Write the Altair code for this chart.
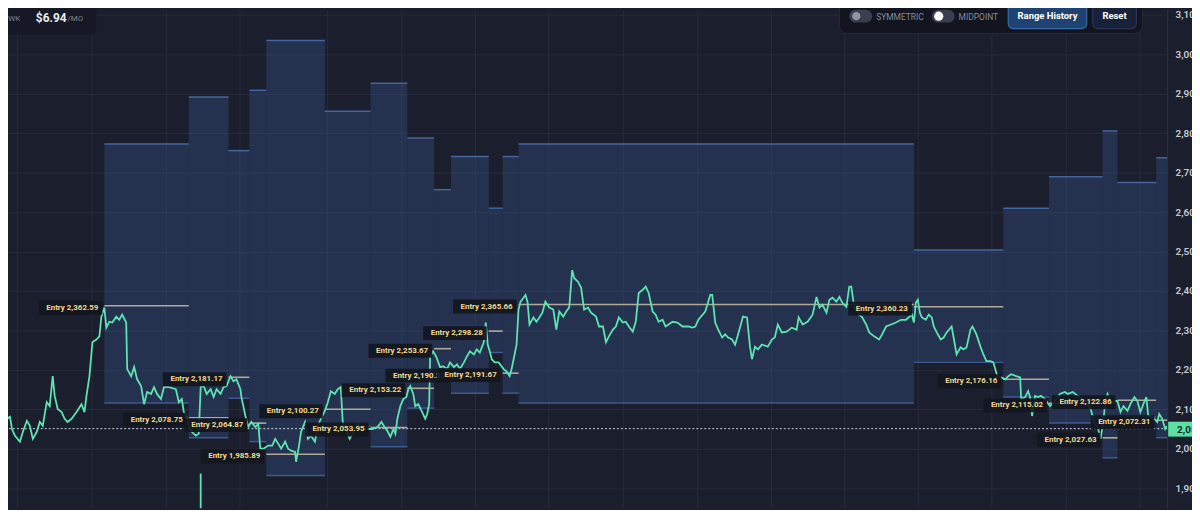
import altair as alt
import pandas as pd

# ---------------- data ----------------
box_start = [105, 190, 230, 251, 268, 327, 373, 410, 437, 454, 492, 506, 522, 920, 1010, 1056, 1110, 1125, 1164]
box_end = [190, 230, 251, 268, 327, 373, 410, 437, 454, 492, 506, 522, 920, 1010, 1056, 1110, 1125, 1164, 1175]
box_upper = [2773, 2892, 2756, 2909, 3035, 2856, 2927, 2788, 2657, 2741, 2610, 2741, 2773, 2504, 2610, 2690, 2806, 2675, 2738]
box_lower = [2116, 2028, 2128, 2018, 1932, 2057, 2005, 2103, 2195, 2141, 2244, 2141, 2116, 2219, 2131, 2065, 1977, 2081, 2028]
entry_price = [2362.59, 2078.75, 2181.17, 2064.87, 1985.89, 2100.27, 2053.95, 2153.22, 2253.67, 2190.35,
               2298.28, 2191.67, 2365.66, 2360.23, 2176.16, 2115.02, 2027.63, 2122.86, 2072.31]

price_t = [0, 3, 7, 10, 12, 15, 20, 23, 27, 30, 33, 37, 40, 43, 47, 50, 53, 55, 58, 62, 65, 68, 72, 77, 82, 85, 87, 90,
           93, 97, 100, 102, 105, 107, 110, 113, 117, 120, 123, 127, 128, 132, 135, 138, 142, 145, 148, 152, 155, 158,
           162, 165, 170, 177, 180, 183, 185, 187, 190, 193, 197, 200, 202, 205, 208, 212, 215, 218, 222, 225, 228, 232,
           235, 238, 242, 243, 247, 250, 253, 257, 260, 262, 265, 270, 274, 277, 280, 283, 287, 290, 293, 297, 298, 301,
           303, 307, 310, 313, 317, 320, 323, 327, 330, 333, 337, 340, 343, 345, 348, 352, 356, 360, 365, 370, 375, 380,
           384, 387, 390, 393, 396, 398, 400, 403, 406, 409, 411, 413, 416, 418, 421, 425, 428, 430, 432, 433, 436, 439,
           443, 446, 450, 453, 457, 460, 463, 467, 470, 473, 477, 480, 483, 487, 489, 491, 493, 495, 498, 502, 507, 510,
           513, 515, 518, 520, 522, 524, 527, 529, 531, 533, 537, 540, 543, 546, 549, 553, 557, 560, 563, 567, 570, 573,
           576, 578, 582, 585, 588, 592, 595, 600, 603, 607, 610, 613, 617, 620, 623, 627, 630, 633, 637, 640, 643, 647,
           650, 653, 657, 660, 663, 667, 670, 673, 677, 682, 687, 693, 697, 700, 703, 710, 715, 717, 720, 723, 727, 730,
           733, 737, 740, 743, 748, 752, 755, 757, 760, 763, 767, 773, 777, 780, 783, 787, 792, 797, 802, 804, 808, 813,
           818, 822, 825, 828, 832, 835, 838, 842, 845, 848, 852, 855, 857, 860, 865, 868, 872, 875, 880, 885, 888, 892,
           897, 902, 907, 912, 918, 920, 922, 924, 926, 928, 932, 935, 938, 940, 943, 947, 950, 953, 958, 960, 963, 967,
           970, 973, 977, 979, 983, 987, 990, 993, 997, 1000, 1004, 1008, 1012, 1015, 1018, 1023, 1027, 1028, 1032,
           1035, 1037, 1039, 1042, 1045, 1048, 1052, 1057, 1062, 1067, 1072, 1075, 1080, 1085, 1090, 1095, 1098, 1102,
           1105, 1108, 1111, 1113, 1115, 1118, 1122, 1125, 1128, 1131, 1135, 1138, 1142, 1145, 1148, 1151, 1154, 1156,
           1160, 1165, 1167, 1170, 1173, 1175]
price_val = [1992, 2045, 2076, 2081, 2050, 2033, 2018, 2043, 2071, 2058, 2025, 2043, 2068, 2058, 2118, 2108, 2184, 2134,
             2101, 2093, 2076, 2068, 2076, 2093, 2113, 2093, 2134, 2184, 2270, 2277, 2285, 2335, 2358, 2307, 2322, 2320,
             2335, 2327, 2340, 2320, 2202, 2184, 2207, 2176, 2159, 2113, 2144, 2139, 2156, 2139, 2126, 2156, 2156, 2151,
             2118, 2126, 2093, 2083, 2058, 2043, 2033, 2038, 2156, 2159, 2139, 2151, 2131, 2151, 2139, 2156, 2159, 2184,
             2171, 2176, 2151, 2131, 2083, 2055, 2068, 2055, 2063, 2000, 2000, 2008, 2008, 2025, 2013, 2000, 2018, 2000,
             1995, 1992, 1967, 2008, 2043, 2068, 2025, 2033, 2018, 2058, 2076, 2096, 2118, 2146, 2139, 2151, 2156, 2068,
             2050, 2025, 2045, 2063, 2050, 2050, 2050, 2055, 2068, 2055, 2045, 2030, 2050, 2038, 2076, 2108, 2126, 2131,
             2151, 2159, 2139, 2108, 2113, 2093, 2076, 2088, 2113, 2234, 2247, 2234, 2207, 2209, 2202, 2219, 2207, 2214,
             2202, 2219, 2234, 2247, 2239, 2252, 2244, 2270, 2320, 2264, 2247, 2227, 2219, 2219, 2202, 2196, 2184, 2202,
             2239, 2264, 2353, 2373, 2383, 2390, 2373, 2315, 2333, 2322, 2333, 2345, 2373, 2358, 2353, 2302, 2348, 2335,
             2348, 2358, 2453, 2433, 2423, 2408, 2353, 2358, 2345, 2335, 2310, 2310, 2270, 2285, 2302, 2310, 2333, 2320,
             2322, 2310, 2297, 2322, 2395, 2403, 2411, 2395, 2348, 2340, 2322, 2327, 2310, 2315, 2322, 2320, 2310, 2310,
             2307, 2310, 2327, 2348, 2390, 2390, 2320, 2302, 2282, 2290, 2282, 2277, 2264, 2290, 2335, 2333, 2259, 2227,
             2259, 2252, 2264, 2259, 2277, 2282, 2315, 2295, 2297, 2307, 2302, 2333, 2315, 2322, 2340, 2385, 2358, 2365,
             2345, 2378, 2383, 2373, 2385, 2370, 2360, 2411, 2411, 2358, 2340, 2333, 2315, 2295, 2285, 2277, 2290, 2310,
             2315, 2320, 2327, 2327, 2340, 2320, 2370, 2378, 2345, 2333, 2327, 2340, 2333, 2310, 2295, 2277, 2282, 2295,
             2310, 2282, 2239, 2257, 2252, 2257, 2302, 2310, 2290, 2259, 2239, 2222, 2222, 2219, 2184, 2181, 2176, 2184,
             2189, 2184, 2181, 2126, 2131, 2146, 2131, 2083, 2134, 2131, 2134, 2126, 2108, 2121, 2139, 2144, 2139, 2144,
             2134, 2126, 2113, 2101, 2063, 2055, 2025, 2076, 2126, 2139, 2113, 2121, 2121, 2093, 2108, 2096, 2113, 2131,
             2121, 2093, 2113, 2131, 2083, 2081, 2068, 2088, 2076, 2050, 2058]

spike_t = [202]
spike_low = [1840]
spike_high = [1937]

current_price = [2050.9]
current_text = ["2,050.90"]

grid_t = [17, 92, 167, 241, 329, 404, 478, 552, 627, 702, 776, 850, 924, 998, 1073, 1147]
y_ticks = [1900, 2000, 2100, 2200, 2300, 2400, 2500, 2600, 2700, 2800, 2900, 3000, 3100]

# ---------------- tables ----------------
boxes = pd.DataFrame({"t0": box_start, "t1": box_end, "hi": box_upper, "lo": box_lower, "entry": entry_price})
prices = pd.DataFrame({"t": price_t, "p": price_val})
spike = pd.DataFrame({"t": spike_t, "lo": spike_low, "hi": spike_high})
cur = pd.DataFrame({"p": current_price, "txt": current_text})
one = pd.DataFrame({"a": [0]})

BG = "#1b1e2d"
FONT = "Roboto"

xs = alt.Scale(domain=[8, 1175], nice=False, zero=False)
ys = alt.Scale(domain=[1848.9, 3113.4], nice=False, zero=False)
x_axis = alt.Axis(values=grid_t, labels=False, ticks=False, domain=False, title=None,
                  grid=True, gridColor="#272b3d", gridWidth=1)
y_axis = alt.Axis(values=y_ticks, orient="right", format=",.0f", ticks=False, domain=True,
                  domainColor="#2c3042", grid=True, gridColor="#272b3d", gridWidth=1,
                  labelColor="#c6cad4", labelFontSize=10, labelFontWeight=600, labelFont=FONT,
                  labelPadding=8, title=None)


def X(f):
    return alt.X(f, type="quantitative", scale=xs, axis=x_axis)


def Y(f):
    return alt.Y(f, type="quantitative", scale=ys, axis=y_axis)


base_boxes = alt.Chart(boxes)

box_fill = base_boxes.mark_rect(color="#3b5fa0", opacity=0.3).encode(
    x=X("t0"), x2="t1", y=Y("lo"), y2="hi")
box_top = base_boxes.mark_rule(color="#4b6ca6", strokeWidth=1.5, opacity=0.9).encode(
    x=X("t0"), x2="t1", y=Y("hi"))
box_bot = base_boxes.mark_rule(color="#40609a", strokeWidth=1.5, opacity=0.9).encode(
    x=X("t0"), x2="t1", y=Y("lo"))

cur_line = alt.Chart(cur).mark_rule(color="#cdd1da", strokeWidth=1, strokeDash=[2, 2]).encode(
    y=Y("p"))

entry_lines = base_boxes.mark_rule(color="#c9bea3", strokeWidth=1.6, opacity=0.85).encode(
    x=X("t0"), x2="t1", y=Y("entry"))

price_line = alt.Chart(prices).mark_line(color="#5ee3b2", strokeWidth=1.8, clip=True).encode(
    x=X("t"), y=Y("p"))

spike_rule = alt.Chart(spike).mark_rule(color="#5ee3b2", strokeWidth=1.8, clip=True).encode(
    x=X("t"), y=Y("lo"), y2="hi")

layers = [box_fill, box_top, box_bot, cur_line, entry_lines, price_line, spike_rule]

# entry labels (one pair per box so later labels sit on top of earlier ones)
for s, e in zip(box_start, entry_price):
    d = pd.DataFrame({"t": [s], "entry": [e], "txt": ["Entry " + format(e, ",.2f")]})
    c = alt.Chart(d)
    layers.append(c.mark_rect(color="#14161f", opacity=0.92, xOffset=-66, x2Offset=-2,
                              yOffset=-5, y2Offset=9, cornerRadius=1).encode(
        x=X("t"), x2="t", y=Y("entry"), y2="entry"))
    layers.append(c.mark_text(color="#f3d98f", font=FONT, fontSize=8, fontWeight="bold",
                              align="right", baseline="middle", dx=-6, dy=2).encode(
        x=X("t"), y=Y("entry"), text="txt"))

# current price tag on the axis
layers.append(alt.Chart(cur).mark_rect(color="#5ce0a3", yOffset=-7, y2Offset=8).encode(
    x=alt.value(1168), x2=alt.value(1200), y=Y("p"), y2="p"))
layers.append(alt.Chart(cur).mark_text(color="#0e2a1d", font=FONT, fontSize=10, fontWeight="bold",
                                       align="left", baseline="middle", dy=1).encode(
    x=alt.value(1177), y=Y("p"), text="txt"))

# ---------------- top-left stats panel ----------------
ui = alt.Chart(one)
layers += [
    ui.mark_rect(color="#161925", cornerRadius=6).encode(
        x=alt.value(-8), x2=alt.value(89), y=alt.value(-10), y2=alt.value(25)),
    ui.mark_text(text="2", color="#e8eaf0", font=FONT, fontSize=12, fontWeight="bold",
                 align="right", baseline="middle").encode(x=alt.value(-4), y=alt.value(8)),
    ui.mark_text(text="/WK", color="#7d8394", font=FONT, fontSize=8,
                 align="left", baseline="middle").encode(x=alt.value(-3), y=alt.value(9)),
    ui.mark_text(text="$6.94", color="#e8eaf0", font=FONT, fontSize=12, fontWeight="bold",
                 align="left", baseline="middle").encode(x=alt.value(28), y=alt.value(8)),
    ui.mark_text(text="/MO", color="#7d8394", font=FONT, fontSize=8,
                 align="left", baseline="middle").encode(x=alt.value(60), y=alt.value(9)),
]

# ---------------- top-right control panel ----------------
layers += [
    ui.mark_rect(color="#12141f", stroke="#262a3a", strokeWidth=1, cornerRadius=8).encode(
        x=alt.value(837), x2=alt.value(1142), y=alt.value(-14), y2=alt.value(24)),
    ui.mark_rect(color="#3a3e4f", cornerRadius=6.5).encode(
        x=alt.value(847), x2=alt.value(870), y=alt.value(0), y2=alt.value(13)),
    ui.mark_circle(color="#8f95a4", opacity=1, size=70).encode(x=alt.value(854), y=alt.value(6.5)),
    ui.mark_text(text="SYMMETRIC", color="#858b9a", font=FONT, fontSize=8.5,
                 align="left", baseline="middle").encode(x=alt.value(874), y=alt.value(7)),
    ui.mark_rect(color="#3a3e4f", cornerRadius=6.5).encode(
        x=alt.value(930), x2=alt.value(953), y=alt.value(0), y2=alt.value(13)),
    ui.mark_circle(color="#ffffff", opacity=1, size=85).encode(x=alt.value(937), y=alt.value(6.5)),
    ui.mark_text(text="MIDPOINT", color="#858b9a", font=FONT, fontSize=8.5,
                 align="left", baseline="middle").encode(x=alt.value(957), y=alt.value(7)),
    ui.mark_rect(color="#1e4373", stroke="#3b6aa4", strokeWidth=1.2, cornerRadius=5).encode(
        x=alt.value(1007), x2=alt.value(1086), y=alt.value(-6), y2=alt.value(19)),
    ui.mark_text(text="Range History", color="#ffffff", font=FONT, fontSize=9.5, fontWeight="bold",
                 align="center", baseline="middle").encode(x=alt.value(1046.5), y=alt.value(6.5)),
    ui.mark_rect(color="#18213a", stroke="#2a3552", strokeWidth=1.2, cornerRadius=5).encode(
        x=alt.value(1092), x2=alt.value(1136), y=alt.value(-7), y2=alt.value(19)),
    ui.mark_text(text="Reset", color="#ffffff", font=FONT, fontSize=9.5, fontWeight="bold",
                 align="center", baseline="middle").encode(x=alt.value(1114), y=alt.value(6)),
]

chart = alt.layer(*layers).properties(
    width=1167, height=502,
    padding={"left": 0, "top": 0, "right": 25, "bottom": 0},
    autosize=alt.AutoSizeParams(type="none"),
    background=BG,
).configure_view(stroke=None)

chart.save("out.html", embed_options={"renderer": "svg", "actions": False})
